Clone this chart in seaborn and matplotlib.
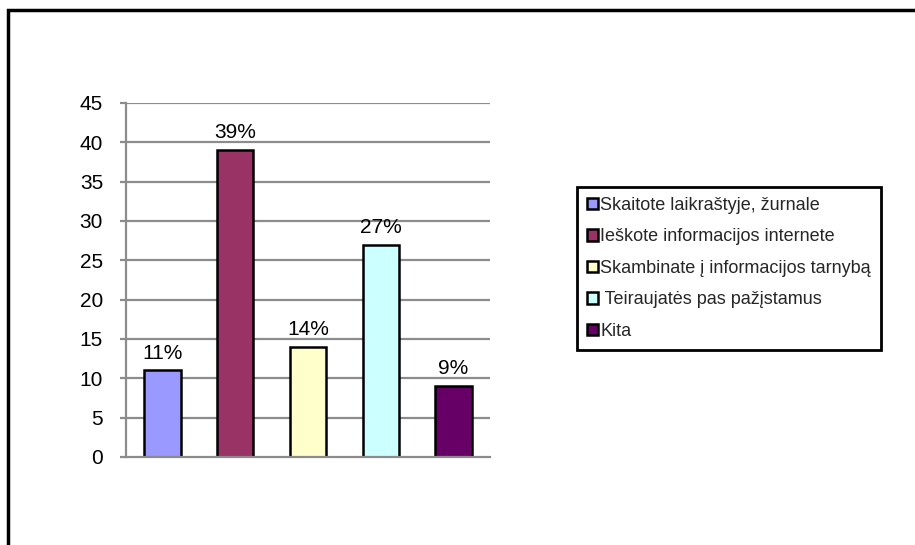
import matplotlib
matplotlib.use("Agg")
import matplotlib.pyplot as plt
from matplotlib.patches import Rectangle, Patch
import seaborn as sns
import pandas as pd

categories = [
    "Skaitote laikraštyje, žurnale",
    "Ieškote informacijos internete",
    "Skambinate į informacijos tarnybą",
    " Teiraujatės pas pažįstamus",
    "Kita",
]
values = [11, 39, 14, 27, 9]
labels = ["11%", "39%", "14%", "27%", "9%"]
colors = ["#9999FF", "#993366", "#FFFFCC", "#CCFFFF", "#660066"]
yticks = [0, 5, 10, 15, 20, 25, 30, 35, 40, 45]

sns.set_theme(style="white")
plt.rcParams["font.family"] = ["Liberation Sans", "DejaVu Sans"]

df = pd.DataFrame({"cat": categories, "val": values})

fig = plt.figure(figsize=(9.15, 5.45), dpi=100)
ax = fig.add_axes([126 / 915, 1 - 457 / 545, (490 - 126) / 915, (457 - 103) / 545])

grid_c = "#8C8C8C"
for t in yticks[1:]:
    ax.axhline(t, color=grid_c, lw=1.6, zorder=0)

sns.barplot(data=df, x="cat", y="val", hue="cat", palette=colors, width=0.5,
            saturation=1, edgecolor="black", linewidth=1.8, legend=False,
            ax=ax, zorder=2)

for i, (v, lab) in enumerate(zip(values, labels)):
    ax.text(i, v + 1.0, lab, ha="center", va="bottom", fontsize=15, color="black")

ax.set_ylim(0, 45)
ax.set_xlim(-0.5, 4.5)
ax.set_yticks(yticks)
ax.set_xticks([])
ax.set_xlabel("")
ax.set_ylabel("")
ax.tick_params(axis="y", labelsize=15, length=4.5, width=1.6, color=grid_c,
               left=True, pad=12, labelcolor="black")
for side in ["top", "right"]:
    ax.spines[side].set_visible(False)
for side in ["left", "bottom"]:
    ax.spines[side].set_color(grid_c)
    ax.spines[side].set_linewidth(1.6)

handles = [Patch(facecolor=c, edgecolor="black", linewidth=1.8) for c in colors]
leg = fig.legend(handles, categories, loc="upper left",
                 bbox_to_anchor=(577 / 915, 1 - 187 / 545), borderaxespad=0,
                 fontsize=13, handlelength=0.6, handleheight=0.6,
                 handletextpad=0.15, labelspacing=0.8, borderpad=0.55,
                 frameon=True, fancybox=False, framealpha=1)
leg.get_frame().set_edgecolor("black")
leg.get_frame().set_linewidth(2.0)

# outer chart frame, open on the right and bottom
fig.add_artist(Rectangle((8 / 915, -0.1), 1.2, 1.1 - 10 / 545,
                         transform=fig.transFigure, fill=False,
                         edgecolor="black", linewidth=2.5))

fig.savefig("out.png", dpi=100)
